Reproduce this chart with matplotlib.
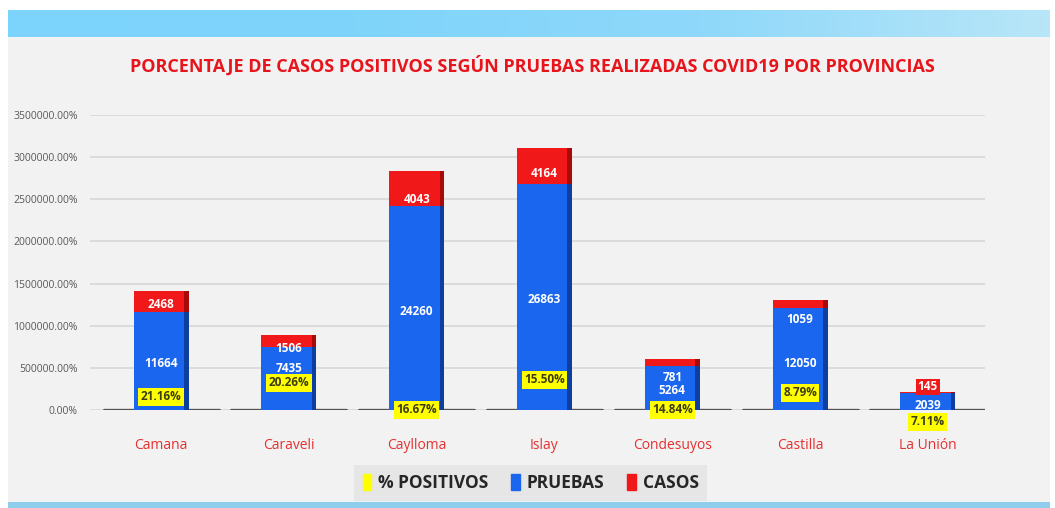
import matplotlib.pyplot as plt
import numpy as np
from matplotlib.patches import Rectangle, Patch
from matplotlib.colors import LinearSegmentedColormap

provincias = ["Camana", "Caraveli", "Caylloma", "Islay", "Condesuyos", "Castilla", "La Unión"]
pruebas = [11664, 7435, 24260, 26863, 5264, 12050, 2039]
casos = [2468, 1506, 4043, 4164, 781, 1059, 145]
positivos = [21.16, 20.26, 16.67, 15.50, 14.84, 8.79, 7.11]
yticks = [0, 500000, 1000000, 1500000, 2000000, 2500000, 3000000, 3500000]

# the sheet plots the counts on a percent axis, so values show up x100
escala = 100

# label nudges in pixels (up is positive)
off_casos = [7, -1, 6, 10, -12, -11, 6]
off_pruebas = [-3, 10, -4, -3, -3, -4, -4]
off_pos = [13, 27, 0, 30, 0, 17, -12]

c_azul = "#1a66ee"
c_azul_osc = "#0c3f9e"
c_rojo = "#f01818"
c_rojo_osc = "#a80a0a"
c_amar = "#ffff00"

fig = plt.figure(figsize=(10.55, 5.08), dpi=100)
fig.patch.set_facecolor("white")

# panel and blue bands
fig.add_artist(Rectangle((8 / 1055, 6 / 508), 1042 / 1055, 465 / 508,
                         transform=fig.transFigure, facecolor="#f2f2f2",
                         edgecolor="none", zorder=0))
band = fig.add_axes([8 / 1055, 471 / 508, 1042 / 1055, 27 / 508], zorder=0)
grad = np.linspace(0, 1, 256)
cmap = LinearSegmentedColormap.from_list("b", ["#7cd3fb", "#7fd4fb", "#8fd8fa", "#b8e6f8"])
band.imshow(np.vstack([grad, grad]), aspect="auto", cmap=cmap)
band.axis("off")
fig.add_artist(Rectangle((8 / 1055, 0), 1042 / 1055, 6 / 508,
                         transform=fig.transFigure, facecolor="#8ecdec",
                         edgecolor="none", zorder=0))

ax = fig.add_axes([90 / 1055, 98 / 508, 895 / 1055, 295 / 508])
ax.set_facecolor("none")
x = np.arange(len(provincias))
w = 0.43
v_pru = np.array(pruebas) * escala
v_cas = np.array(casos) * escala

for t in yticks:
    ax.axhline(t, color="#d9d9d9", lw=1.3, zorder=0)

# floor shadow under each column
for xi in x:
    ax.plot([xi - 0.45, xi + 0.45], [0, 0], color="#3a3a3a", lw=2.4,
            alpha=0.85, solid_capstyle="round", zorder=1)

ax.bar(x, v_pru, w, color=c_azul, zorder=2)
ax.bar(x, v_cas, w, bottom=v_pru, color=c_rojo, zorder=2)
sw = 0.035
ax.bar(x + w / 2 - sw / 2, v_pru, sw, color=c_azul_osc, zorder=3)
ax.bar(x + w / 2 - sw / 2, v_cas, sw, bottom=v_pru, color=c_rojo_osc, zorder=3)

px = 0.72  # points per pixel
for i in range(len(x)):
    ax.annotate(str(pruebas[i]), (x[i], v_pru[i] / 2), xytext=(0, off_pruebas[i] * px),
                textcoords="offset points", ha="center", va="center",
                color="white", fontsize=8.5, fontweight="bold", family="Open Sans", zorder=5)
    box = dict(boxstyle="square,pad=0.15", fc=c_rojo, ec="none") if i == 6 else None
    ax.annotate(str(casos[i]), (x[i], v_pru[i]), xytext=(0, off_casos[i] * px),
                textcoords="offset points", ha="center", va="center",
                color="white", fontsize=8.5, fontweight="bold", family="Open Sans",
                bbox=box, zorder=5)
    ax.annotate(f"{positivos[i]:.2f}%", (x[i], positivos[i] / 100), xytext=(0, off_pos[i] * px),
                textcoords="offset points", ha="center", va="center",
                color="#3d3d12", fontsize=8.5, fontweight="bold", family="Open Sans",
                bbox=dict(boxstyle="square,pad=0.2", fc=c_amar, ec="none"),
                annotation_clip=False, zorder=6)

ax.set_xlim(-0.556, 6.447)
ax.set_ylim(0, 3500000)
ax.set_yticks(yticks)
ax.set_yticklabels([f"{t:.2f}%" for t in yticks], fontsize=7.5, color="#595959", family="Open Sans")
ax.set_xticks(x)
ax.set_xticklabels(provincias, fontsize=10, color="#e53030", family="Open Sans")
ax.tick_params(axis="x", length=0, pad=20)
ax.tick_params(axis="y", length=0, pad=9)
for s in ax.spines.values():
    s.set_visible(False)

fig.text(0.505, 0.870, "PORCENTAJE DE CASOS POSITIVOS SEGÚN PRUEBAS REALIZADAS COVID19 POR PROVINCIAS",
         ha="center", va="center", color="#e8141c", fontsize=13, fontweight="bold", family="Open Sans")

handles = [Patch(color=c_amar, label="% POSITIVOS"),
           Patch(color=c_azul, label="PRUEBAS"),
           Patch(color=c_rojo, label="CASOS")]
leg = fig.legend(handles=handles, loc="center", bbox_to_anchor=(0.503, 0.049), ncol=3,
                 frameon=True, fancybox=False, handlelength=0.5, handleheight=1.0,
                 handletextpad=0.4, columnspacing=1.3, borderpad=0.5,
                 prop={"family": "Open Sans", "weight": "bold", "size": 12.5})
leg.get_frame().set_facecolor("#e4e4e4")
leg.get_frame().set_edgecolor("none")
for t in leg.get_texts():
    t.set_color("#262626")

fig.savefig("out.png", dpi=100)
